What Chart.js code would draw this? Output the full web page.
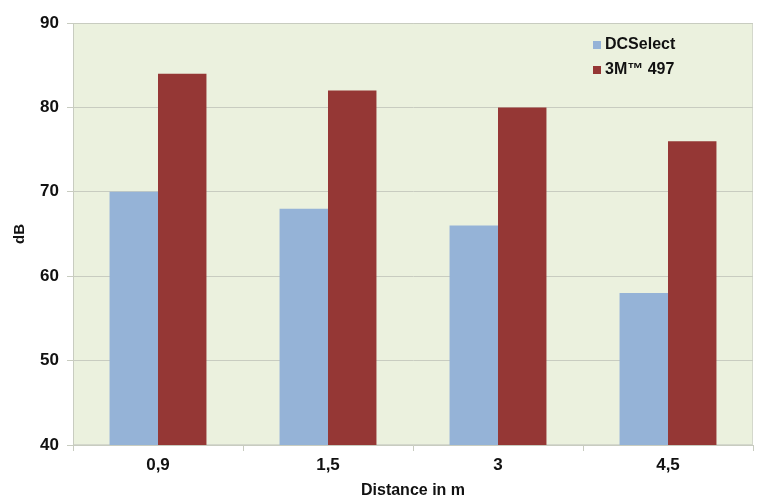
<!DOCTYPE html>
<html>
<head>
<meta charset="utf-8">
<script src="https://cdn.jsdelivr.net/npm/chart.js@4.4.1/dist/chart.umd.min.js"></script>
<style>
  html, body { margin: 0; padding: 0; background: #fff; }
  #wrap { width: 757px; height: 500px; }
</style>
</head>
<body>
<div id="wrap"><canvas id="myChart" width="757" height="500"></canvas></div>
<script>
const categories = ['0,9', '1,5', '3', '4,5'];
const dcSelect = [70, 68, 66, 58];
const m497 = [84, 82, 80, 76];
const seriesNames = ['DCSelect', '3M\u2122 497'];
const yTicks = [40, 50, 60, 70, 80, 90];

const colors = ['#95B3D7', '#953735'];
const fontFamily = '"Liberation Sans", Arial, sans-serif';

// plot background + light frame
const plotBackground = {
    id: 'plotBackground',
    beforeDraw(chart) {
        const { ctx, chartArea: a } = chart;
        ctx.save();
        ctx.fillStyle = '#EBF1DE';
        ctx.fillRect(a.left, a.top, a.right - a.left, a.bottom - a.top);
        ctx.strokeStyle = '#D4D8CC';
        ctx.lineWidth = 1;
        ctx.strokeRect(a.left + 0.5, a.top + 0.5, a.right - a.left - 1, a.bottom - a.top - 1);
        ctx.restore();
    }
};

// legend drawn inside the plot, top right
const innerLegend = {
    id: 'innerLegend',
    afterDraw(chart) {
        const { ctx } = chart;
        ctx.save();
        ctx.font = 'bold 16px ' + fontFamily;
        ctx.textBaseline = 'middle';
        chart.data.datasets.forEach((ds, i) => {
            const y = 45 + i * 25;
            ctx.fillStyle = ds.backgroundColor;
            ctx.fillRect(593, y - 4, 8, 8);
            ctx.fillStyle = '#111';
            ctx.fillText(ds.label, 605, y);
        });
        ctx.restore();
    }
};

const ctx = document.getElementById('myChart').getContext('2d');
new Chart(ctx, {
    type: 'bar',
    data: {
        labels: categories,
        datasets: [
            {
                label: seriesNames[0],
                data: dcSelect,
                backgroundColor: colors[0],
                borderWidth: 0
            },
            {
                label: seriesNames[1],
                data: m497,
                backgroundColor: colors[1],
                borderWidth: 0
            }
        ]
    },
    options: {
        responsive: false,
        animation: false,
        layout: { padding: { top: 23, right: 4, left: 11, bottom: 0 } },
        plugins: {
            legend: { display: false },
            tooltip: { enabled: false }
        },
        datasets: {
            bar: { categoryPercentage: 0.57, barPercentage: 1.0 }
        },
        scales: {
            x: {
                offset: true,
                grid: {
                    offset: true,
                    drawOnChartArea: false,
                    drawTicks: true,
                    tickLength: 6,
                    color: '#C8CCC0'
                },
                border: { color: '#C8CCC0' },
                ticks: {
                    color: '#111',
                    padding: 4,
                    font: { family: fontFamily, size: 17, weight: 'bold' }
                },
                title: {
                    display: true,
                    text: 'Distance in m',
                    color: '#111',
                    padding: { top: 1, bottom: 0 },
                    font: { family: fontFamily, size: 16, weight: 'bold' }
                },
                afterFit(scale) { scale.height = 55; }
            },
            y: {
                min: 40,
                max: 90,
                afterBuildTicks(scale) {
                    scale.ticks = yTicks.map(v => ({ value: v }));
                },
                grid: {
                    color: '#C8CCC0',
                    tickLength: 6
                },
                border: { color: '#C8CCC0' },
                ticks: {
                    color: '#111',
                    padding: 8,
                    font: { family: fontFamily, size: 17, weight: 'bold' }
                },
                title: {
                    display: true,
                    text: 'dB',
                    color: '#111',
                    padding: { top: 0, bottom: 4 },
                    font: { family: fontFamily, size: 15, weight: 'bold' }
                },
                afterFit(scale) { scale.width = 62; }
            }
        }
    },
    plugins: [plotBackground, innerLegend]
});
</script>
</body>
</html>
